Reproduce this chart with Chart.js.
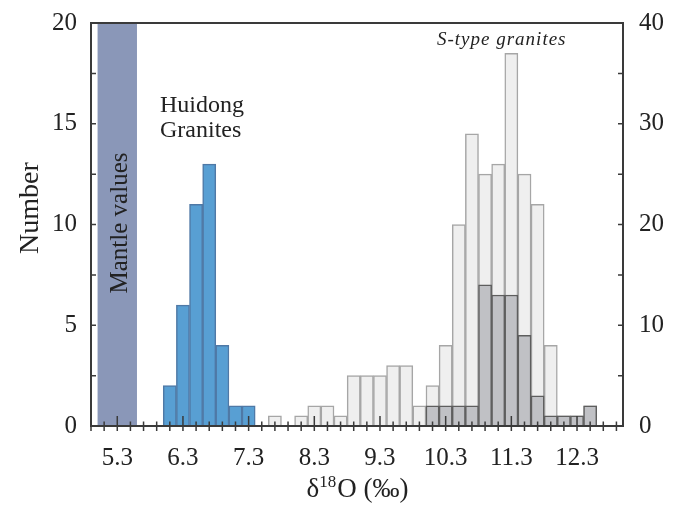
<!DOCTYPE html>
<html>
<head>
<meta charset="utf-8">
<script src="https://cdn.jsdelivr.net/npm/chart.js@4.4.0/dist/chart.umd.min.js"></script>
<style>
    html, body { margin: 0; padding: 0; background: #fff; }
</style>
</head>
<body>
<canvas id="histChart" width="684" height="505"></canvas>
<script>
    // d18O bin centres (0.2 permil bins) and counts
    const huidongBins = [6.1, 6.3, 6.5, 6.7, 6.9, 7.1, 7.3];
    const huidongCounts = [2, 6, 11, 13, 4, 1, 1];

    const sTypeBins = [7.7, 7.9, 8.1, 8.3, 8.5, 8.7, 8.9, 9.1, 9.3, 9.5, 9.7, 9.9, 10.1,
        10.3, 10.5, 10.7, 10.9, 11.1, 11.3, 11.5, 11.7, 11.9, 12.1, 12.3, 12.5];
    const sTypeCounts = [1, 0, 1, 2, 2, 1, 5, 5, 5, 6, 6, 2, 4,
        8, 20, 29, 25, 26, 37, 25, 22, 8, 1, 1, 2];

    const sTypeSubBins = [10.1, 10.3, 10.5, 10.7, 10.9, 11.1, 11.3, 11.5, 11.7, 11.9, 12.1, 12.3, 12.5];
    const sTypeSubCounts = [2, 2, 2, 2, 14, 13, 13, 9, 3, 1, 1, 1, 2];

    const mantleRange = [5.0, 5.6];
    const xLabelTicks = [5.3, 6.3, 7.3, 8.3, 9.3, 10.3, 11.3, 12.3];
    const leftTicks = [0, 5, 10, 15, 20];
    const rightTicks = [0, 10, 20, 30, 40];

    const serif = '"Liberation Serif", "Times New Roman", serif';
    const ink = '#222';

    function toPoints(bins, counts) {
        return bins.map((x, i) => ({ x: x, y: counts[i] }));
    }

    // minor tick every 0.2 from 4.9 to 12.9
    const xMinorTicks = [];
    for (let k = 49; k <= 129; k += 2) xMinorTicks.push(k / 10);

    function fixSize(prop, size) {
        return s => {
            s[prop] = size;
            s.paddingTop = 0;
            s.paddingBottom = 0;
            s.paddingLeft = 0;
            s.paddingRight = 0;
        };
    }

    const decorations = {
        id: 'decorations',
        beforeDatasetsDraw(chart) {
            const { ctx, chartArea, scales } = chart;
            const l = scales.x.getPixelForValue(mantleRange[0]);
            const r = scales.x.getPixelForValue(mantleRange[1]);
            ctx.save();
            ctx.fillStyle = '#8a97b8';
            ctx.fillRect(l, chartArea.top, r - l, chartArea.bottom - chartArea.top);
            ctx.restore();
        },
        afterDraw(chart) {
            const { ctx, chartArea, scales } = chart;
            const { left, right, top, bottom } = chartArea;
            ctx.save();

            // frame
            ctx.strokeStyle = '#3a3a3a';
            ctx.lineWidth = 2;
            ctx.strokeRect(left, top, right - left, bottom - top);

            // tick marks
            ctx.lineWidth = 1.5;
            ctx.beginPath();
            xMinorTicks.forEach(v => {
                const px = scales.x.getPixelForValue(v);
                const major = xLabelTicks.some(t => Math.abs(t - v) < 1e-6);
                ctx.moveTo(px, bottom - (major ? 10 : 4.5));
                ctx.lineTo(px, bottom + 5);
            });
            for (let v = 2.5; v < 20; v += 2.5) {
                const py = scales.y.getPixelForValue(v);
                ctx.moveTo(left, py);
                ctx.lineTo(left + 5, py);
            }
            for (let v = 5; v < 40; v += 5) {
                const py = scales.y1.getPixelForValue(v);
                ctx.moveTo(right, py);
                ctx.lineTo(right - 5, py);
            }
            ctx.stroke();

            ctx.fillStyle = ink;

            // Mantle values (rotated, inside the band)
            ctx.save();
            ctx.translate(126.5, 223);
            ctx.rotate(-Math.PI / 2);
            ctx.font = '25px ' + serif;
            ctx.textAlign = 'center';
            ctx.textBaseline = 'alphabetic';
            ctx.fillText('Mantle values', 0, 0);
            ctx.restore();

            // y title
            ctx.save();
            ctx.translate(38, 208);
            ctx.rotate(-Math.PI / 2);
            ctx.font = '28px ' + serif;
            ctx.textAlign = 'center';
            ctx.textBaseline = 'alphabetic';
            ctx.fillText('Number', 0, 0);
            ctx.restore();

            // group labels
            ctx.font = '24px ' + serif;
            ctx.textAlign = 'left';
            ctx.textBaseline = 'alphabetic';
            ctx.fillText('Huidong', 160, 112);
            ctx.fillText('Granites', 160, 137);

            ctx.font = 'italic 19px ' + serif;
            ctx.letterSpacing = '1px';
            ctx.fillText('S-type granites', 437, 45);
            ctx.letterSpacing = '0px';

            // x title with superscript
            const main = '27px ' + serif, sup = '17px ' + serif;
            ctx.font = main;
            const w1 = ctx.measureText('\u03B4').width;
            const w3 = ctx.measureText('O (\u2030)').width;
            ctx.font = sup;
            const w2 = ctx.measureText('18').width;
            const cx = (left + right) / 2;
            const x0 = cx - (w1 + w2 + w3) / 2;
            const base = 497;
            ctx.font = main;
            ctx.fillText('\u03B4', x0, base);
            ctx.font = sup;
            ctx.fillText('18', x0 + w1, base - 10);
            ctx.font = main;
            ctx.fillText('O (\u2030)', x0 + w1 + w2 + 1, base);

            ctx.restore();
        }
    };

    const ctx = document.getElementById('histChart').getContext('2d');
    new Chart(ctx, {
        type: 'bar',
        data: {
            datasets: [
                {
                    label: 'S-type subset',
                    data: toPoints(sTypeSubBins, sTypeSubCounts),
                    yAxisID: 'y1',
                    backgroundColor: '#c0c1c5',
                    borderColor: '#5e5e5e',
                    borderWidth: 1.5,
                    order: 0
                },
                {
                    label: 'S-type granites',
                    data: toPoints(sTypeBins, sTypeCounts),
                    yAxisID: 'y1',
                    backgroundColor: '#efefef',
                    borderColor: '#a6a6a6',
                    borderWidth: 1.5,
                    order: 1
                },
                {
                    label: 'Huidong Granites',
                    data: toPoints(huidongBins, huidongCounts),
                    yAxisID: 'y',
                    backgroundColor: '#589fd3',
                    borderColor: '#4f79a6',
                    borderWidth: 1.5,
                    order: 0
                }
            ]
        },
        options: {
            responsive: false,
            animation: false,
            devicePixelRatio: 1,
            grouped: false,
            barPercentage: 1,
            categoryPercentage: 1,
            layout: { padding: { top: 23, left: 0, right: 0, bottom: 0 } },
            plugins: { legend: { display: false }, tooltip: { enabled: false } },
            scales: {
                x: {
                    type: 'linear',
                    min: 4.9,
                    max: 13.0,
                    offset: false,
                    grid: { display: false, drawTicks: false },
                    border: { display: false },
                    afterBuildTicks: s => { s.ticks = xLabelTicks.map(v => ({ value: v })); },
                    afterFit: fixSize('height', 79),
                    ticks: {
                        autoSkip: false,
                        maxRotation: 0,
                        padding: 17,
                        color: ink,
                        font: { family: serif, size: 25 },
                        callback: v => Number(v).toFixed(1)
                    }
                },
                y: {
                    position: 'left',
                    min: 0,
                    max: 20,
                    grid: { display: false, drawTicks: false },
                    border: { display: false },
                    afterBuildTicks: s => { s.ticks = leftTicks.map(v => ({ value: v })); },
                    afterFit: fixSize('width', 91),
                    ticks: { padding: 14, color: ink, font: { family: serif, size: 25 } }
                },
                y1: {
                    position: 'right',
                    min: 0,
                    max: 40,
                    grid: { display: false, drawTicks: false },
                    border: { display: false },
                    afterBuildTicks: s => { s.ticks = rightTicks.map(v => ({ value: v })); },
                    afterFit: fixSize('width', 61),
                    ticks: { padding: 16, color: ink, font: { family: serif, size: 25 } }
                }
            }
        },
        plugins: [decorations]
    });
</script>
</body>
</html>
